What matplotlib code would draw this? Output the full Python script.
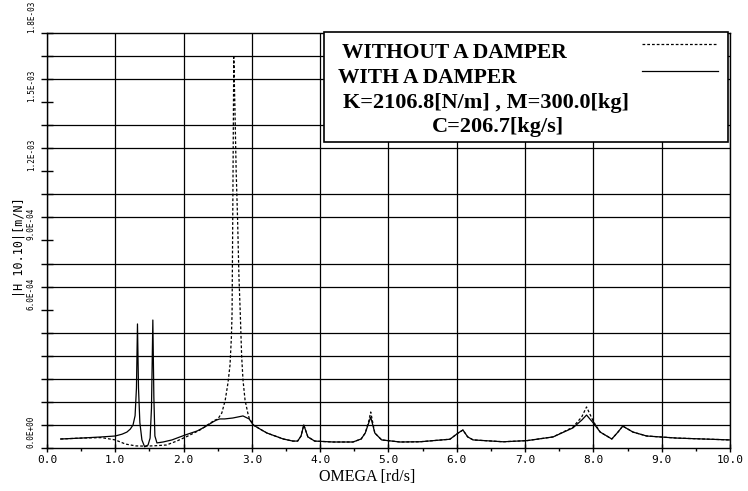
import numpy as np
import matplotlib
matplotlib.use("Agg")
import matplotlib.pyplot as plt
from matplotlib.patches import Rectangle

# |H|, in units of 1e-4 m/N
omega_damped = [0.2, 0.5, 0.8, 1.0, 1.1, 1.17, 1.22, 1.26, 1.29, 1.31, 1.325, 1.34,
                1.36, 1.39, 1.43, 1.48, 1.51, 1.53, 1.55, 1.565, 1.58, 1.61, 1.7,
                1.83, 2.02, 2.2, 2.31, 2.43, 2.48, 2.53, 2.6, 2.72, 2.87, 2.96,
                3.02, 3.12, 3.22, 3.34, 3.46, 3.6, 3.67, 3.72, 3.76, 3.79, 3.82,
                3.92, 4.19, 4.48, 4.6, 4.66, 4.71, 4.74, 4.77, 4.8, 4.9, 5.17,
                5.46, 5.9, 6.02, 6.09, 6.16, 6.24, 6.68, 7.03, 7.41, 7.7, 7.83,
                7.9, 8.0, 8.1, 8.27, 8.36, 8.43, 8.58, 8.78, 9.22, 10.0]
h_damped = [0.39, 0.43, 0.48, 0.52, 0.6, 0.69, 0.82, 1.0, 1.4, 2.6, 5.38, 2.6,
            1.1, 0.35, 0.05, 0.13, 0.43, 1.73, 5.55, 2.2, 0.52, 0.22, 0.26,
            0.35, 0.56, 0.74, 0.91, 1.13, 1.21, 1.26, 1.26, 1.3, 1.39, 1.26,
            1.0, 0.82, 0.65, 0.52, 0.39, 0.3, 0.3, 0.52, 1.0, 0.74, 0.48,
            0.3, 0.26, 0.26, 0.39, 0.65, 1.08, 1.34, 1.0, 0.65, 0.35, 0.26,
            0.27, 0.38, 0.65, 0.78, 0.48, 0.35, 0.27, 0.32, 0.48, 0.87, 1.21,
            1.43, 1.08, 0.69, 0.39, 0.69, 0.95, 0.69, 0.52, 0.43, 0.35]

omega_free = [0.2, 0.5, 0.8, 1.0, 1.15, 1.3, 1.45, 1.6, 1.75, 1.9, 2.05, 2.24,
              2.39, 2.46, 2.5, 2.56, 2.61, 2.65, 2.68, 2.7, 2.71, 2.72, 2.735,
              2.75, 2.77, 2.79, 2.81, 2.83, 2.85, 2.87, 2.9, 2.94, 2.96, 3.02,
              3.12, 3.22, 3.34, 3.46, 3.6, 3.67, 3.72, 3.76, 3.79, 3.82, 3.92,
              4.19, 4.48, 4.6, 4.66, 4.71, 4.74, 4.77, 4.8, 4.9, 5.17, 5.46, 5.9,
              6.02, 6.09, 6.16, 6.24, 6.68, 7.03, 7.41, 7.7, 7.83, 7.9, 8.0, 8.1,
              8.27, 8.36, 8.43, 8.58, 8.78, 9.22, 10.0]
h_free = [0.39, 0.43, 0.45, 0.35, 0.17, 0.09, 0.08, 0.1, 0.13, 0.3, 0.5, 0.78,
          1.08, 1.21, 1.25, 1.52, 2.08, 2.82, 3.6, 4.8, 5.85, 10.0, 16.95,
          15.0, 12.0, 10.0, 7.5, 5.85, 4.0, 2.95, 2.08, 1.52, 1.3, 1.0,
          0.82, 0.65, 0.52, 0.39, 0.3, 0.3, 0.52, 1.0, 0.74, 0.48, 0.3,
          0.26, 0.26, 0.39, 0.65, 1.15, 1.56, 1.1, 0.65, 0.35, 0.26, 0.27, 0.38,
          0.65, 0.78, 0.48, 0.35, 0.27, 0.32, 0.48, 0.9, 1.35, 1.78, 1.15, 0.69,
          0.39, 0.69, 0.95, 0.69, 0.52, 0.43, 0.35]

x_ticks = np.arange(0, 11)
x_labels = ["0.0", "1.0", "2.0", "3.0", "4.0", "5.0", "6.0", "7.0", "8.0", "9.0", "10.0"]
y_ticks = [0.0, 6e-4, 9e-4, 1.2e-3, 1.5e-3, 1.8e-3]
y_labels = ["0.0E+00", "6.0E-04", "9.0E-04", "1.2E-03", "1.5E-03", "1.8E-03"]

legend_lines = ["WITHOUT A DAMPER", "WITH A DAMPER"]
param_lines = ["K=2106.8[N/m] , M=300.0[kg]", "C=206.7[kg/s]"]

fig = plt.figure(figsize=(7.48, 4.91), dpi=100)
ax = fig.add_axes([0.0628, 0.0876, 0.9131, 0.8452])

ax.plot(omega_free, np.array(h_free) * 1e-4, color="black", lw=0.9,
        linestyle=(0, (2.2, 1.6)), zorder=3)
ax.plot(omega_damped, np.array(h_damped) * 1e-4, color="black", lw=0.9, zorder=4)

ax.set_xlim(0, 10)
ax.set_ylim(0, 1.8e-3)

ax.set_xticks(x_ticks)
ax.set_xticklabels(x_labels, family="DejaVu Sans Mono", fontsize=8)
ax.set_xticks(np.arange(0.5, 10, 1.0), minor=True)
ax.set_yticks(y_ticks)
ax.set_yticklabels(y_labels, family="DejaVu Sans Mono", fontsize=5.5)
ax.set_yticks(np.arange(0, 1.85e-3, 1e-4), minor=True)
for t in ax.get_yticklabels():
    t.set_rotation(90)
    t.set_va("bottom")

ax.tick_params(axis="x", which="major", direction="inout", length=6, width=1, pad=2)
ax.tick_params(axis="x", which="minor", direction="out", length=2.5, width=1)
ax.tick_params(axis="y", which="both", direction="inout", length=8, width=1, pad=4)

ax.grid(True, which="major", axis="x", color="black", lw=0.9)
ax.grid(True, which="minor", axis="y", color="black", lw=0.9)
ax.set_axisbelow(True)
for s in ax.spines.values():
    s.set_linewidth(1.0)

ax.set_xlabel("OMEGA [rd/s]", family="Liberation Serif", fontsize=11.5)
ax.xaxis.set_label_coords(0.469, -0.05)
ax.set_ylabel("|H 10.10|[m/N]", family="DejaVu Sans Mono", fontsize=8.5)
ax.yaxis.set_label_coords(-0.032, 0.484)

# legend box in the top right corner
box = Rectangle((0.4056, 0.737), 0.5914, 0.265, transform=ax.transAxes,
                facecolor="white", edgecolor="black", lw=1.2, zorder=5, clip_on=False)
ax.add_patch(box)
ax.plot([0.871, 0.982], [0.9735, 0.9735], transform=ax.transAxes, color="black",
        lw=0.9, linestyle=(0, (2.2, 1.6)), zorder=6, clip_on=False)
ax.plot([0.871, 0.982], [0.9084, 0.9084], transform=ax.transAxes, color="black",
        lw=0.9, zorder=6, clip_on=False)

fig.text(0.4572, 0.8819, legend_lines[0], family="Liberation Serif", weight="bold",
         fontsize=15.5, va="baseline", zorder=7)
fig.text(0.4519, 0.8310, legend_lines[1], family="Liberation Serif", weight="bold",
         fontsize=15.5, va="baseline", zorder=7)
fig.text(0.4586, 0.7800, param_lines[0], family="Liberation Serif", weight="bold",
         fontsize=16, va="baseline", zorder=7)
fig.text(0.5775, 0.7312, param_lines[1], family="Liberation Serif", weight="bold",
         fontsize=16, va="baseline", zorder=7)

fig.savefig("out.png", dpi=100)
